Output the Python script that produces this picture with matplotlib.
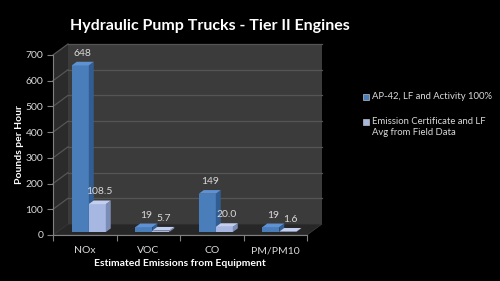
import matplotlib
matplotlib.use("Agg")
import matplotlib.pyplot as plt
from matplotlib.patches import Polygon, Rectangle
import numpy as np

categories = ["NOx", "VOC", "CO", "PM/PM10"]
series_names = ["AP-42, LF and Activity 100%", "Emission Certificate and LF\nAvg from Field Data"]
ap42 = [648, 19, 149, 19]
cert = [108.5, 5.7, 20.0, 1.6]
ap42_labels = ["648", "19", "149", "19"]
cert_labels = ["108.5", "5.7", "20.0", "1.6"]
yticks = [0, 100, 200, 300, 400, 500, 600, 700]

plt.rcParams['font.family'] = ['Lato', 'DejaVu Sans']

W, H = 500, 281
fig = plt.figure(figsize=(W / 100, H / 100), dpi=100, facecolor="black")
ax = fig.add_axes([53 / W, (H - 235) / H, 254 / W, 180 / H])
ax.set_facecolor("none")
ax.set_xlim(-0.5, 3.5)
ax.set_ylim(0, 700)

pxx = 254 / 4.0      # px per x unit
pxy = 180 / 700.0    # px per y unit
DX = 15 / pxx
DY = 11 / pxy

xmin, xmax = -0.5, 3.5
wall = "#3b3b3b"
side = "#2b2b2b"
floor = "#272727"
grid = "#555555"

# back wall
ax.add_patch(Polygon([(xmin + DX, DY), (xmax + DX, DY), (xmax + DX, 700 + DY), (xmin + DX, 700 + DY)],
                     closed=True, facecolor=wall, edgecolor="none", clip_on=False, zorder=0))
# side wall
ax.add_patch(Polygon([(xmin, 0), (xmin, 700), (xmin + DX, 700 + DY), (xmin + DX, DY)],
                     closed=True, facecolor=side, edgecolor="none", clip_on=False, zorder=0))
# floor
ax.add_patch(Polygon([(xmin, 0), (xmax, 0), (xmax + DX, DY), (xmin + DX, DY)],
                     closed=True, facecolor=floor, edgecolor="#3a3a3a", lw=0.6, clip_on=False, zorder=0.5))
for v in yticks[1:]:
    ax.plot([xmin + DX, xmax + DX], [v + DY, v + DY], color=grid, lw=0.9, clip_on=False, zorder=0.3)
    ax.plot([xmin, xmin + DX], [v, v + DY], color=grid, lw=0.9, clip_on=False, zorder=0.3)

# bars
w = 17 / pxx
f = 0.27
d = 0.33
ox, oy = f * DX, f * DY
ddx, ddy = d * DX, d * DY
styles = [
    dict(front="#4a7ebb", side="#325d92", top="#5f92d2", vals=ap42, labs=ap42_labels),
    dict(front="#a6b8e2", side="#7b8db6", top="#c2cff0", vals=cert, labs=cert_labels),
]
x = np.arange(len(categories))
for si, st in enumerate(styles):
    for i, v in enumerate(st["vals"]):
        x0 = x[i] - w + si * w + ox
        b = oy
        top = b + v
        ax.add_patch(Polygon([(x0, b), (x0 + w, b), (x0 + w, top), (x0, top)], closed=True,
                             facecolor=st["front"], edgecolor="none", clip_on=False, zorder=2 + si))
        ax.add_patch(Polygon([(x0 + w, b), (x0 + w + ddx, b + ddy), (x0 + w + ddx, top + ddy), (x0 + w, top)],
                             closed=True, facecolor=st["side"], edgecolor="none", clip_on=False, zorder=2 + si))
        ax.add_patch(Polygon([(x0, top), (x0 + w, top), (x0 + w + ddx, top + ddy), (x0 + ddx, top + ddy)],
                             closed=True, facecolor=st["top"], edgecolor="none", clip_on=False, zorder=2 + si))
        ax.text(x0 + w / 2 + ddx / 2, top + ddy + 4 / pxy, st["labs"][i], ha="center", va="bottom",
                color="#d9d9d9", fontsize=7.5, zorder=5)

# axes styling
for s in ["top", "right"]:
    ax.spines[s].set_visible(False)
ax.spines["left"].set_color("#808080")
ax.spines["bottom"].set_color("#808080")
ax.spines["left"].set_linewidth(0.8)
ax.spines["bottom"].set_linewidth(0.8)
ax.set_yticks(yticks)
ax.tick_params(axis="y", colors="#808080", labelcolor="#d9d9d9", labelsize=7.5, length=4, width=0.8, pad=3)
ax.set_xticks(x)
ax.set_xticklabels(categories)
ax.tick_params(axis="x", which="major", length=0, labelcolor="#d9d9d9", labelsize=7.5, pad=8)
ax.set_xticks(np.arange(-0.5, 4.0, 1.0), minor=True)
ax.tick_params(axis="x", which="minor", length=4, width=0.8, colors="#808080")
ax.set_xlabel("Estimated Emissions from Equipment", color="white", fontsize=7.5, fontweight="bold", labelpad=3)
ax.set_ylabel("Pounds per Hour", color="white", fontsize=7.5, fontweight="bold", labelpad=1)

fig.text(210 / W, 1 - 26 / H, "Hydraulic Pump Trucks - Tier II Engines", ha="center", va="center",
         color="white", fontsize=11.5, fontweight="bold")

# legend (marker aligned with first text line, as in the reference)
leg_y = [97, 122]
for si, name in enumerate(series_names):
    yc = leg_y[si]
    fig.patches.append(Rectangle((363 / W, 1 - (yc + 3) / H), 6 / W, 6 / H, transform=fig.transFigure,
                                 facecolor=styles[si]["front"], edgecolor="#c0c0c0", lw=0.5))
    fig.text(372 / W, 1 - (yc - 5) / H, name, ha="left", va="top", color="#d9d9d9",
             fontsize=6.8, linespacing=1.3)

fig.savefig("out.png", dpi=100, facecolor="black")
